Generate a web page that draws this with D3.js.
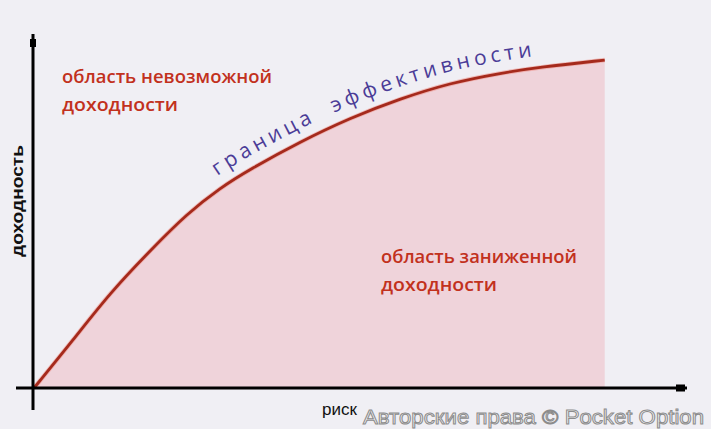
<!DOCTYPE html>
<html><head><meta charset="utf-8">
<script src="https://cdn.jsdelivr.net/npm/d3@7"></script>
<style>html,body{margin:0;padding:0;background:#f0eff4;overflow:hidden}</style>
</head><body>
<svg id="c" width="711" height="429"></svg>
<script>
// frontier data (risk, return) in arbitrary units
const risk = [0, 0.60, 1.16, 1.82, 2.34, 2.85, 3.31, 4.07, 4.84, 5.60, 6.37, 7.14, 7.75, 8.74];
const ret  = [0, 1.36, 2.69, 3.97, 4.93, 5.67, 6.20, 6.97, 7.65, 8.19, 8.64, 8.92, 9.09, 9.29];
const labelTop = ["область невозможной", "доходности"];
const labelBottom = ["область заниженной", "доходности"];
const frontierLabel = "граница  эффективности";
const xTitle = "риск", yTitle = "доходность";
const watermark = "Авторские права © Pocket Option";

const svg = d3.select("#c");
const x = d3.scaleLinear().domain([0, 10]).range([34, 687]);
const y = d3.scaleLinear().domain([0, 10]).range([388, 35]);
const pts = risk.map((r, i) => [r, ret[i]]);
const crv = d3.curveBasis;

svg.append("rect").attr("width", 711).attr("height", 429).attr("fill", "#f0eff4");

// area under frontier
const area = d3.area().x(d => x(d[0])).y0(y(0)).y1(d => y(d[1])).curve(crv);
svg.append("path").datum(pts).attr("d", area).attr("fill", "#efd3da");

// frontier line
const line = d3.line().x(d => x(d[0])).y(d => y(d[1])).curve(crv);
svg.append("path").datum(pts).attr("d", line).attr("fill", "none")
  .attr("stroke", "#f08a80").attr("stroke-width", 4.5).attr("opacity", 0.5);
const fp = svg.append("path").datum(pts).attr("id", "frontier").attr("d", line).attr("fill", "none")
  .attr("stroke", "#a52a1c").attr("stroke-width", 2.8);

// axes
svg.append("line").attr("x1", x(0) - 1).attr("x2", x(0) - 1).attr("y1", 34).attr("y2", 410)
  .attr("stroke", "#000").attr("stroke-width", 3);
svg.append("rect").attr("x", x(0) - 4).attr("y", 39).attr("width", 6).attr("height", 8).attr("fill", "#000");
svg.append("line").attr("x1", 16).attr("x2", 687).attr("y1", y(0)).attr("y2", y(0))
  .attr("stroke", "#000").attr("stroke-width", 3);
svg.append("rect").attr("x", 676).attr("y", y(0) - 3.5).attr("width", 9).attr("height", 7).attr("fill", "#000");

// region labels
const red = "#c2311d";
function block(lines, x0, y0, widths) {
  const t = svg.append("text").attr("font-family", "'Open Sans', sans-serif").attr("font-size", 17.5)
    .attr("fill", red).attr("font-weight", 600);
  lines.forEach((s, i) => t.append("tspan").attr("x", x0).attr("y", y0 + i * 27.5)
    .attr("textLength", widths[i]).attr("lengthAdjust", "spacingAndGlyphs").text(s));
}
block(labelTop, 62, 83, [210, 116]);
block(labelBottom, 381, 263, [196, 116]);

// axis titles
svg.append("text").attr("transform", "translate(23,201) rotate(-90)").attr("text-anchor", "middle")
  .attr("font-family", "'Liberation Sans', Arial, sans-serif").attr("font-weight", "bold").attr("font-size", 16)
  .attr("fill", "#111").attr("textLength", 112).attr("lengthAdjust", "spacingAndGlyphs").text(yTitle);
svg.append("text").attr("x", 322).attr("y", 415).attr("font-family", "'Liberation Sans', Arial, sans-serif")
  .attr("font-size", 17).attr("fill", "#111").text(xTitle);

// label along the frontier
const node = fp.node();
const L = node.getTotalLength();
function offsetAtX(px) {
  let lo = 0, hi = L;
  for (let k = 0; k < 40; k++) { const m = (lo + hi) / 2; if (node.getPointAtLength(m).x < px) lo = m; else hi = m; }
  return lo;
}
const s0 = offsetAtX(224), s1 = offsetAtX(534);
svg.append("text").attr("font-family", "'Open Sans', sans-serif").attr("font-size", 21)
  .attr("fill", "#4b3c97").attr("dy", -12).style("white-space", "pre")
  .append("textPath").attr("href", "#frontier").attr("startOffset", s0)
  .attr("textLength", s1 - s0).attr("lengthAdjust", "spacing").text(frontierLabel);

// watermark
svg.append("text").attr("x", 363).attr("y", 424).attr("font-family", "'Liberation Sans', Arial, sans-serif")
  .attr("font-size", 21).attr("textLength", 341).attr("lengthAdjust", "spacingAndGlyphs")
  .attr("fill", "#f6f6f8").attr("stroke", "#8c8c8c").attr("stroke-width", 1)
  .text(watermark);
</script>
</body></html>
